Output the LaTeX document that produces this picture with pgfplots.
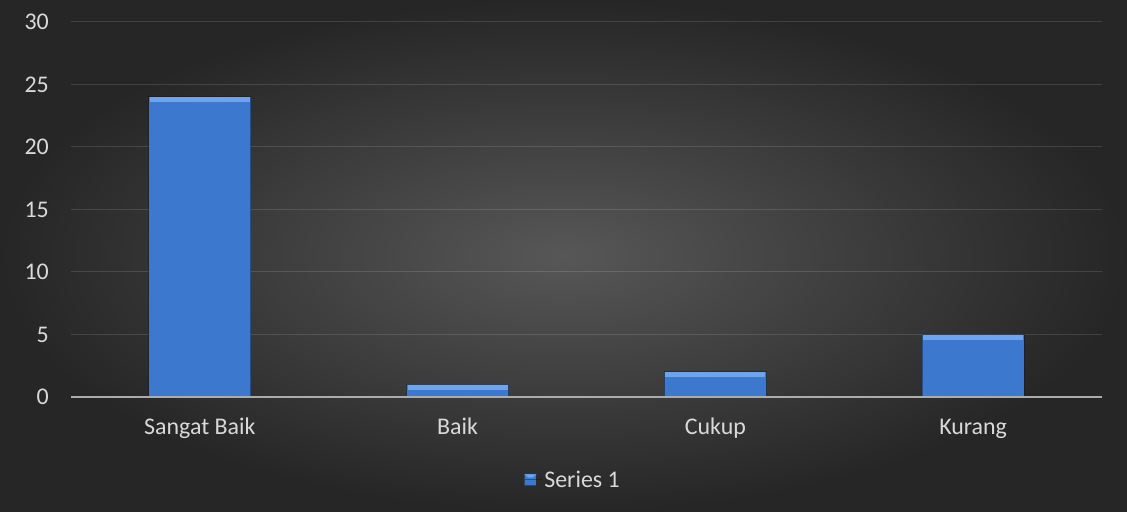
\documentclass[border=0pt]{standalone}
\usepackage{fontspec}
\setmainfont{Carlito}
\usepackage{pgfplots}
\pgfplotsset{compat=1.18}
\definecolor{bgin}{HTML}{575757}
\definecolor{bgout}{HTML}{262626}
\definecolor{txt}{HTML}{D9D9D9}
\definecolor{barblue}{HTML}{3D78CF}
\definecolor{barlight}{HTML}{6CA4EE}
\definecolor{bardark}{HTML}{2F61AE}
\begin{document}
\begin{tikzpicture}[x=1bp,y=1bp]
\shade[inner color=bgin, outer color=bgout] (0,0) rectangle (1127,512);
\begin{axis}[
  at={(71bp,115bp)}, anchor=south west,
  scale only axis, width=1031bp, height=375bp,
  xmin=-0.5, xmax=3.5, ymin=0, ymax=30,
  ytick={0,5,...,30},
  xtick=data,
  xticklabels={Sangat Baik, Baik, Cukup, Kurang},
  axis line style={draw=none},
  major tick length=0pt,
  ymajorgrids, grid style={draw=white, opacity=0.13, line width=1bp},
  every tick label/.append style={inner sep=0pt, text=txt, font=\fontsize{24}{28}\selectfont},
  /pgf/number format/assume math mode=true,
  yticklabel style={anchor=east, xshift=-22bp},
  xticklabel style={anchor=base, yshift=-38bp},
  legend style={at={(0.487,-0.221)}, anchor=center, draw=none, fill=none, text=txt, font=\fontsize{24}{28}\selectfont, inner sep=0pt},
  legend image code/.code={
    \fill[barblue] (0bp,-5.5bp) rectangle (11bp,5.5bp);
    \fill[barlight] (0bp,5.5bp) -- (11bp,5.5bp) -- (8bp,2.5bp) -- (3bp,2.5bp) -- cycle;
    \path (0bp,0bp) -- (17bp,0bp);
  },
  clip=false,
]
\addplot[ybar, bar width=102bp, fill=barblue, draw=black, draw opacity=0.35, line width=1bp,
  nodes near coords={},
  every node near coord/.style={rectangle, minimum width=100bp, minimum height=5bp,
    inner sep=0pt, outer sep=0pt, fill=barlight, draw=none, anchor=north, yshift=-0.5bp}]
  coordinates {(0,24) (1,1) (2,2) (3,5)};
\addlegendentry{Series 1}
\draw[color=gray!65, line width=1.5bp] (axis cs:-0.5,0) -- (axis cs:3.5,0);
\end{axis}
\end{tikzpicture}
\end{document}
